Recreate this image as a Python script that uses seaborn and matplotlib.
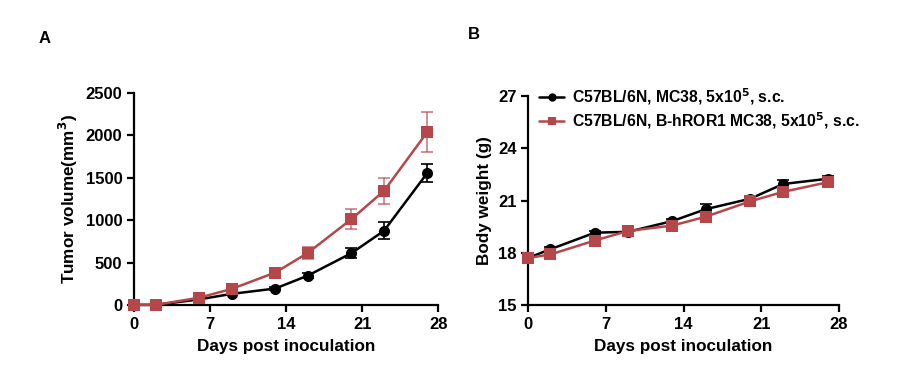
import numpy as np
import pandas as pd
import seaborn as sns
import matplotlib
matplotlib.use("Agg")
import matplotlib.pyplot as plt

sns.set_style("ticks")
plt.rcParams['font.family'] = ['Liberation Sans', 'DejaVu Sans']
plt.rcParams['font.weight'] = 'bold'
for k in ['text.color', 'axes.labelcolor', 'xtick.color', 'ytick.color', 'axes.edgecolor']:
    plt.rcParams[k] = 'black'

# data
days = [0, 2, 6, 9, 13, 16, 20, 23, 27]
groups = ["C57BL/6N, MC38, 5x10$^{5}$, s.c.",
          "C57BL/6N, B-hROR1 MC38, 5x10$^{5}$, s.c."]

tumor_wt = [0, 0, 65, 130, 193, 346, 610, 874, 1559]
tumor_wt_sem = [0, 0, 10, 15, 20, 25, 60, 100, 108]
tumor_hror1 = [0, 0, 85, 189, 382, 614, 1012, 1345, 2042]
tumor_hror1_sem = [0, 0, 12, 20, 25, 67, 122, 154, 232]

bw_wt = [17.7, 18.2, 19.15, 19.2, 19.82, 20.5, 21.1, 21.95, 22.25]
bw_wt_sem = [0.1, 0.1, 0.12, 0.1, 0.1, 0.3, 0.15, 0.2, 0.15]
bw_hror1 = [17.7, 17.9, 18.7, 19.25, 19.56, 20.07, 20.95, 21.5, 22.05]
bw_hror1_sem = [0.1, 0.12, 0.2, 0.15, 0.12, 0.2, 0.15, 0.3, 0.3]

colors = ["#000000", "#B5474A"]
markers = ["o", "s"]

tumor = pd.DataFrame({
    "day": days * 2,
    "value": tumor_wt + tumor_hror1,
    "sem": tumor_wt_sem + tumor_hror1_sem,
    "group": [groups[0]] * len(days) + [groups[1]] * len(days),
})
weight = pd.DataFrame({
    "day": days * 2,
    "value": bw_wt + bw_hror1,
    "sem": bw_wt_sem + bw_hror1_sem,
    "group": [groups[0]] * len(days) + [groups[1]] * len(days),
})

fig = plt.figure(figsize=(9, 3.83), dpi=100)
axA = fig.add_axes([0.149, 0.204, 0.338, 0.553])
axB = fig.add_axes([0.587, 0.204, 0.345, 0.545])


def draw(ax, df, legend):
    # red first so black sits on top, as in the original
    for i in [1, 0]:
        sub = df[df["group"] == groups[i]]
        ax.errorbar(sub["day"], sub["value"], yerr=sub["sem"], fmt="none",
                    ecolor=colors[i], elinewidth=1.2, capsize=4, capthick=1.2,
                    alpha=0.7 if i == 1 else 1, zorder=2)
    sns.lineplot(data=df, x="day", y="value", hue="group", style="group",
                 hue_order=groups, style_order=groups,
                 palette=colors, markers=markers, dashes=False,
                 markersize=8, markeredgewidth=0, linewidth=1.8,
                 legend=legend, ax=ax, zorder=3)
    for ln in ax.lines:
        ln.set_clip_on(False)
    ax.set_xlim(0, 28)
    ax.set_xticks([0, 7, 14, 21, 28])
    for s in ["top", "right"]:
        ax.spines[s].set_visible(False)
    for s in ["left", "bottom"]:
        ax.spines[s].set_linewidth(1.6)
    ax.tick_params(width=1.6, length=5, labelsize=12)
    ax.set_xlabel("Days post inoculation", fontsize=12.3, fontweight="bold", labelpad=5)
    for lab in ax.get_xticklabels() + ax.get_yticklabels():
        lab.set_fontweight("bold")


draw(axA, tumor, False)
axA.set_ylim(0, 2500)
axA.set_yticks([0, 500, 1000, 1500, 2000, 2500])
axA.set_ylabel("Tumor volume(mm$^{3}$)", fontsize=12.3, fontweight="bold")
for lab in axA.get_yticklabels():
    lab.set_fontweight("bold")

draw(axB, weight, True)
axB.set_ylim(15, 27)
axB.set_yticks([15, 18, 21, 24, 27])
axB.set_ylabel("Body weight (g)", fontsize=12.3, fontweight="bold")
for lab in axB.get_yticklabels():
    lab.set_fontweight("bold")
leg = axB.legend(loc="upper left", bbox_to_anchor=(0.0, 1.1), frameon=False,
                 fontsize=11.3, handlelength=1.6, handletextpad=0.5,
                 labelspacing=0.2, borderaxespad=0.3)
for h in leg.legend_handles:
    h.set_markersize(6)
for t in leg.get_texts():
    t.set_fontweight("bold")

fig.text(0.043, 0.9, "A", fontsize=12, fontweight="bold", ha="left", va="center")
fig.text(0.52, 0.91, "B", fontsize=12, fontweight="bold", ha="left", va="center")

fig.savefig("out.png", dpi=100)
